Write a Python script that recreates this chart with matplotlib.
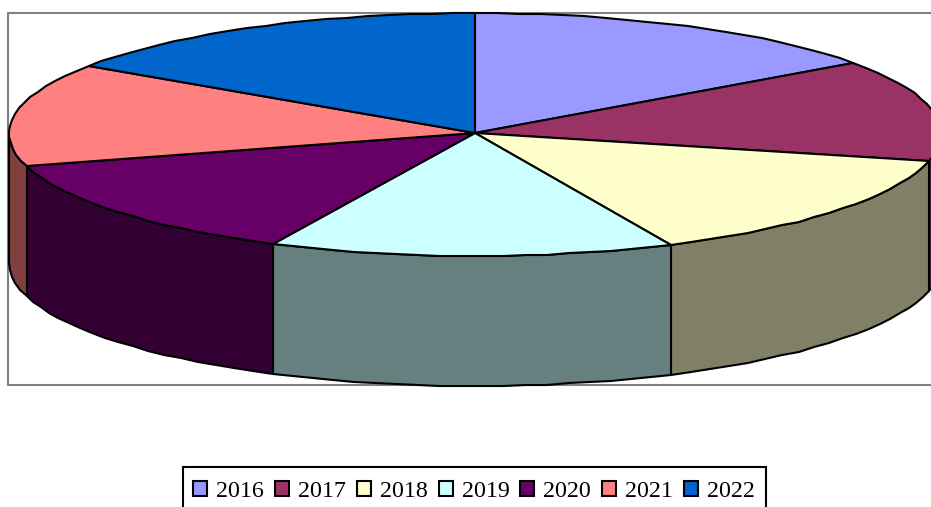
import numpy as np
import matplotlib
matplotlib.use('Agg')
import matplotlib.pyplot as plt
from matplotlib.patches import Patch, Rectangle

# (slice sizes, share of the full circle in degrees)
years = ['2016', '2017', '2018', '2019', '2020', '2021', '2022']
values = [54.3, 49.0, 51.8, 50.6, 48.5, 49.8, 56.0]
top_colors = ['#9999FF', '#993366', '#FFFFCC', '#CCFFFF', '#660066', '#FF8080', '#0066CC']
side_colors = ['#4D4D80', '#4D1A33', '#808066', '#668080', '#330033', '#804040', '#003366']

cx, cy = 475, 133
rx = 466
ry_back, ry_front = 120, 123
depth = 130
edge_lw = 1.5


def rim(a0, a1):
    # coarse, pixel rounded outline, the source chart has the same stepped edge
    n = max(int(abs(a1 - a0) / 2.5), 2)
    t = np.radians(np.linspace(a0, a1, n))
    c = np.cos(t)
    return np.round(cx + rx * np.sin(t)), np.round(cy - np.where(c > 0, ry_back, ry_front) * c)


fig = plt.figure(figsize=(9.31, 5.07), dpi=100)
ax = fig.add_axes([0, 0, 1, 1])
ax.set_xlim(0, 931)
ax.set_ylim(507, 0)
ax.axis('off')

# plot area frame
ax.plot([940, 8, 8, 940], [13, 13, 385, 385], color='#808080', lw=1.5, zorder=1)

edges = np.concatenate([[0], np.cumsum(values)])

# side walls, only the front half of the pie shows them
for i in range(len(values)):
    a0, a1 = max(edges[i], 90), min(edges[i + 1], 270)
    if a1 <= a0:
        continue
    x, y = rim(a0, a1)
    xs = np.concatenate([x, x[::-1]])
    ys = np.concatenate([y, y[::-1] + depth])
    ax.fill(xs, ys, facecolor=side_colors[i], edgecolor='black', lw=edge_lw,
            joinstyle='round', zorder=2)

# top face
for i in range(len(values)):
    x, y = rim(edges[i], edges[i + 1])
    xs = np.concatenate([[cx], x])
    ys = np.concatenate([[cy], y])
    ax.fill(xs, ys, facecolor=top_colors[i], edgecolor='black', lw=edge_lw,
            joinstyle='round', zorder=3)

# legend box runs off the bottom of the image
ax.add_patch(Rectangle((183, 467), 583, 60, facecolor='white', edgecolor='black',
                       lw=1.5, zorder=4))
handles = [Patch(facecolor=c, edgecolor='black', lw=1.5) for c in top_colors]
leg = ax.legend(handles, years, ncol=7, loc='upper left', bbox_to_anchor=(193, 481),
                bbox_transform=ax.transData, borderaxespad=0, frameon=False,
                prop={'family': 'Liberation Serif', 'size': 17.3},
                handlelength=0.58, handleheight=0.58, handletextpad=0.375,
                columnspacing=0.46, borderpad=0)
leg.set_zorder(5)

fig.savefig('out.png', dpi=100)
